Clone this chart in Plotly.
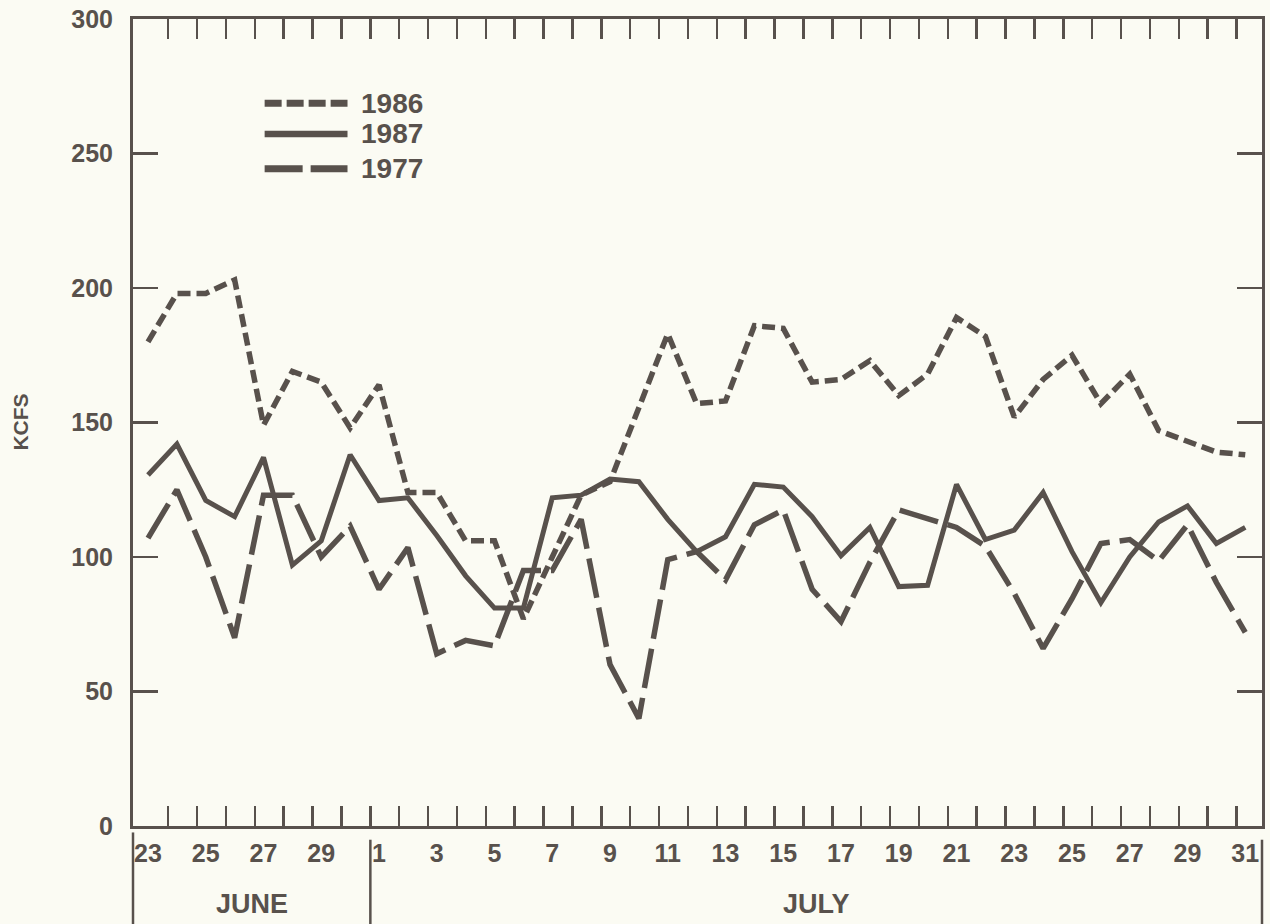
import plotly.graph_objects as go

# ---- data -------------------------------------------------------------
june_days = list(range(23, 31))
july_days = list(range(1, 32))
day_labels = [str(d) for d in june_days + july_days]

kcfs_1986 = [180, 198, 198, 203, 149, 169, 165, 148, 164, 124, 124, 106, 106, 77,
             100, 123, 128, 156, 183, 157, 158, 186, 185, 165, 166, 173, 160, 168,
             189, 182, 152, 166, 175, 157, 168, 147, 143, 139, 138]
kcfs_1987 = [130.5, 142, 121, 115, 137, 97, 106, 138, 121, 122, 108, 93, 81, 81,
             122, 123, 129, 128, 114, 102, 107.5, 127, 126, 115, 100.5, 111, 89, 89.5,
             127, 106.5, 110, 124, 102, 83, 100, 113, 119, 105, 111]
kcfs_1977 = [107, 125, 100, 70, 123, 123, 100, 111.5, 88, 103.5, 64, 69, 67, 95,
             95, 114, 60, 40, 99, 102, 91.5, 112, 117.5, 88, 76, 98, 117.5, 114.5,
             111, 104, 86.5, 66, 84.5, 105, 106.5, 98.5, 112, 90.5, 72]
series_names = ["1986", "1987", "1977"]
y_ticks = [0, 50, 100, 150, 200, 250, 300]
month_names = ["JUNE", "JULY"]

# ---- style ------------------------------------------------------------
INK = "#58514c"
BG = "#fbfbf3"
FONT = "Liberation Sans, Arial, Helvetica, sans-serif"
dash_styles = {"1986": "13px,6px", "1987": "solid", "1977": "40px,10px"}
legend_dash = {"1986": "17px,5px", "1987": "solid", "1977": "38px,8px"}
widths = {"1986": 5.5, "1987": 5, "1977": 5.5}

x = list(range(len(day_labels)))
x_range = [-0.52, 38.58]
tick_off = 0.7  # day-boundary tick offset
boundary_ticks = [i + tick_off for i in range(len(day_labels) - 1)]
month_split = len(june_days) - 1 + tick_off

fig = go.Figure()
data = {"1986": kcfs_1986, "1987": kcfs_1987, "1977": kcfs_1977}
for name in series_names:
    fig.add_trace(go.Scatter(
        x=x, y=data[name], mode="lines", name=name,
        xaxis="x2" if name == "1987" else "x",
        line=dict(color=INK, width=widths[name], dash=dash_styles[name]),
        showlegend=False, hoverinfo="skip"))

fig.update_layout(
    width=1270, height=924,
    margin=dict(l=133, r=5, t=12, b=98),
    paper_bgcolor=BG, plot_bgcolor=BG,
    font=dict(family=FONT, color=INK, size=24, weight="bold"),
    xaxis=dict(range=x_range, tickvals=boundary_ticks, ticks="inside", ticklen=20,
               tickwidth=2.5, tickcolor=INK, showticklabels=False, showline=True,
               linewidth=3, linecolor=INK, mirror="ticks", showgrid=False, zeroline=False),
    xaxis2=dict(range=x_range, overlaying="x", matches="x", side="bottom",
                tickvals=x[::2], ticktext=day_labels[::2], ticks="",
                showline=False, showgrid=False, zeroline=False,
                ticklabelstandoff=10, ticklabeloverflow="allow",
                tickfont=dict(family=FONT, size=25, color=INK, weight="bold")),
    yaxis=dict(range=[0, 300], tickvals=y_ticks, ticks="inside", ticklen=25,
               tickwidth=2.5, tickcolor=INK, showline=True, linewidth=3,
               linecolor=INK, mirror="ticks", showgrid=False, zeroline=False,
               ticklabelstandoff=12, ticklabeloverflow="allow",
               tickfont=dict(family=FONT, size=25, color=INK, weight="bold")),
)

# axis title
fig.add_annotation(text="KCFS", xref="paper", yref="paper", x=-0.1, y=0.5,
                   xanchor="center", yanchor="middle",
                   textangle=-90, showarrow=False,
                   font=dict(family=FONT, size=21, color=INK, weight="bold"))

# month separators and labels below the axis
for xv, xr, y0 in [(0, "paper", -0.008), (month_split, "x", -0.017), (1, "paper", -0.017)]:
    fig.add_shape(type="line", xref=xr, yref="paper", x0=xv, x1=xv, y0=y0, y1=-0.13,
                  line=dict(color=INK, width=2.5))
month_centers = [(x_range[0] + month_split) / 2, (month_split + x_range[1]) / 2]
for name, cx in zip(month_names, month_centers):
    fig.add_annotation(text=name, xref="x", yref="paper", x=cx, y=-0.097,
                       xanchor="center", yanchor="middle", showarrow=False,
                       font=dict(family=FONT, size=27, color=INK, weight="bold"))

# manual legend
leg_y = [0.8956, 0.8575, 0.8145]
for name, ly in zip(series_names, leg_y):
    fig.add_shape(type="line", xref="paper", yref="paper", x0=0.1166, x1=0.19,
                  y0=ly, y1=ly,
                  line=dict(color=INK, width=widths[name] + 1.5, dash=legend_dash[name]))
    fig.add_annotation(text=name, xref="paper", yref="paper", x=0.2005, y=ly,
                       xanchor="left", yanchor="middle", showarrow=False,
                       font=dict(family=FONT, size=28, color=INK, weight="bold"))

fig.write_html("out.html",
               config={"displayModeBar": False, "staticPlot": True},
               post_script="document.body.style.margin='0';"
                           "document.body.style.background='#fbfbf3';")
